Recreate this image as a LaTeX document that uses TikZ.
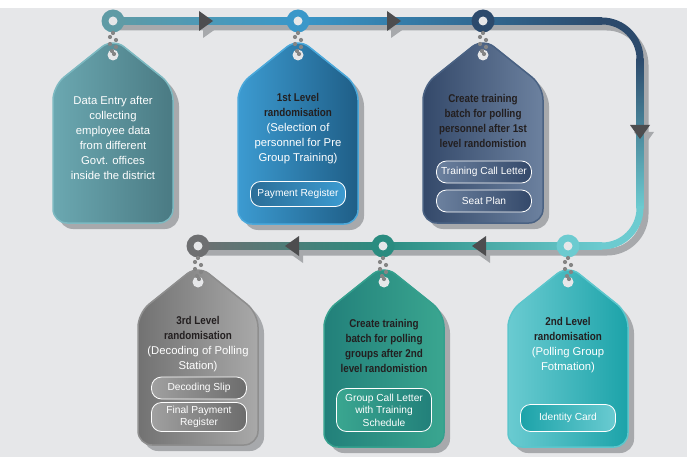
\documentclass[tikz,border=0pt]{standalone}
\usepackage{fontspec}
\setmainfont{Liberation Sans}[BoldFeatures={FakeStretch=0.87}]
\usetikzlibrary{calc}

\definecolor{bggray}{HTML}{E6E7E9}
\definecolor{shadowgray}{HTML}{A7A9AC}
\definecolor{arrowgray}{HTML}{4D4D4F}
\definecolor{chaingray}{HTML}{858585}
\definecolor{titlecol}{HTML}{231F20}
\definecolor{trackA}{HTML}{5F9BA5}
\definecolor{trackB}{HTML}{3A97C9}
\definecolor{trackC}{HTML}{2C4A6C}
\definecolor{trackD}{HTML}{6CCBD0}
\definecolor{trackE}{HTML}{2A8C80}
\definecolor{trackF}{HTML}{6E6F71}
% tag colours: left, right, border
\definecolor{entryL}{HTML}{6BA8B1}  \definecolor{entryR}{HTML}{4A7A83}  \definecolor{entryB}{HTML}{7DB9C1}
\definecolor{firstL}{HTML}{3C9BD1}  \definecolor{firstR}{HTML}{1F5E87}  \definecolor{firstB}{HTML}{4BA8DA}
\definecolor{batchL}{HTML}{34496A}  \definecolor{batchR}{HTML}{6C819F}  \definecolor{batchB}{HTML}{4A6283}
\definecolor{thirdL}{HTML}{727272}  \definecolor{thirdR}{HTML}{A9A9A9}  \definecolor{thirdB}{HTML}{8E8E8E}
\definecolor{groupL}{HTML}{22807A}  \definecolor{groupR}{HTML}{3AA690}  \definecolor{groupB}{HTML}{35A08E}
\definecolor{secondL}{HTML}{6ACBD1} \definecolor{secondR}{HTML}{1CA3A9} \definecolor{secondB}{HTML}{5CC6CC}
\definecolor{firstP}{HTML}{2B6E98}  \definecolor{thirdP}{HTML}{A0A0A0}  \definecolor{thirdQ}{HTML}{6C6C6C}

\tikzset{
   track/.style={line width=7},
   trackshadow/.style={line width=7, draw=shadowgray, transform canvas={shift={(5,6)}}},
   tagtext/.style={align=center, inner sep=0pt, text=white,
      font=\fontsize{11.3}{15}\selectfont},
   tagtitle/.style={tagtext, text=titlecol, font=\fontsize{11.3}{15}\selectfont\bfseries},
   pill/.style={draw=white, line width=.8, rounded corners=10, minimum width=95,
      align=center, inner sep=1pt, text=white, font=\fontsize{10.2}{12.5}\selectfont},
   ring/.style={fill=#1},
}

\newcommand\ttl[1]{\textcolor{titlecol}{\bfseries #1}}

% tag body: centre x, apex y, bottom y, colour prefix
\newcommand\tagbody[4]{%
   \fill[shadowgray, rounded corners=14, transform canvas={shift={(6,6)}}]
      (#1,#2) -- (#1+60,#2+48) -- (#1+60,#3) -- (#1-60,#3) -- (#1-60,#2+48) -- cycle;
   \shadedraw[left color=#4L, right color=#4R, draw=#4B, line width=1.5, rounded corners=14]
      (#1,#2) -- (#1+60,#2+48) -- (#1+60,#3) -- (#1-60,#3) -- (#1-60,#2+48) -- cycle;
   \fill[bggray] (#1,#2+17) circle (5.5);
}

% little chain from ring down to the tag hole
\newcommand\chain[2]{%
   \foreach \dx/\dy in {0/12, -3/16, 3/19, -3/23, 3/26, -1/30, 1/33}
      \fill[chaingray] (#1+\dx,#2+\dy) circle (2.1);
}

% arrow head shadow and arrow head: x, y, rotation
\newcommand\trackarrow[3]{%
   \fill[shadowgray, shift={(#1+4,#2+7)}, rotate=#3] (-7,-10) -- (7,0) -- (-7,10) -- cycle;
}
\newcommand\trackhead[3]{%
   \fill[arrowgray, shift={(#1,#2)}, rotate=#3] (-7,-10) -- (7,0) -- (-7,10) -- cycle;
}

\begin{document}
\begin{tikzpicture}[x=1pt,y=-1pt]
   \useasboundingbox (0,0) rectangle (687,457);
   \fill[white] (0,0) rectangle (687,457);
   \fill[bggray] (0,8) rectangle (687,457);

   \coordinate (r1) at (113,21);
   \coordinate (r2) at (298,21);
   \coordinate (r3) at (483,21);
   \coordinate (c1) at (640,21);
   \coordinate (c2) at (640,246);
   \coordinate (r6) at (568,246);
   \coordinate (r5) at (383,246);
   \coordinate (r4) at (198,246);

   % shadows of the track
   \draw[trackshadow, rounded corners=38] (r1) -- (c1) -- (c2) -- (r4);
   \trackarrow{206}{21}{0}
   \trackarrow{394}{21}{0}
   \trackarrow{640}{132}{-90}
   \trackarrow{479}{246}{180}
   \trackarrow{292}{246}{180}

   % the track
   \shade[left color=trackA, right color=trackB] ($(r1)+(0,-3.5)$) rectangle ($(r2)+(0,3.5)$);
   \shade[left color=trackB, right color=trackC] ($(r2)+(0,-3.5)$) rectangle ($(c1)+(-38,3.5)$);
   \draw[track, trackC, rounded corners=38] ($(c1)+(-40,0)$) -- (c1) -- ($(c1)+(0,40)$);
   \shade[top color=trackC, bottom color=trackD] ($(c1)+(-3.5,38)$) rectangle ($(c2)+(3.5,-38)$);
   \draw[track, trackD, rounded corners=38] ($(c2)+(0,-40)$) -- (c2) -- ($(c2)+(-40,0)$);
   \shade[left color=trackE, right color=trackD] ($(r5)+(0,-3.5)$) rectangle ($(c2)+(-38,3.5)$);
   \shade[left color=trackF, right color=trackE] ($(r4)+(0,-3.5)$) rectangle ($(r5)+(0,3.5)$);

   \trackhead{206}{21}{0}
   \trackhead{394}{21}{0}
   \trackhead{640}{132}{-90}
   \trackhead{479}{246}{180}
   \trackhead{292}{246}{180}

   % tags
   \tagbody{113}{38}{223}{entry}
   \tagbody{298}{38}{224}{first}
   \tagbody{483}{38}{223}{batch}
   \tagbody{198}{265}{445}{third}
   \tagbody{384}{265}{447}{group}
   \tagbody{568}{265}{447}{second}

   % rings
   \foreach \r/\c in {r1/trackA, r2/trackB, r3/trackC, r4/trackF, r5/trackE, r6/trackD} {
      \fill[ring=\c] (\r) circle (11.5);
      \fill[bggray] (\r) circle (4.5);
   }
   \chain{113}{21}
   \chain{298}{21}
   \chain{483}{21}
   \chain{198}{246}
   \chain{383}{246}
   \chain{568}{246}

   % texts
   \node[tagtext] (t1) at (113,137.5) {Data Entry after\\collecting\\employee data\\from different\\Govt. offices\\inside the district};
   \node[tagtext] (t2) at (298,128.5) {\ttl{1st Level}\\\ttl{randomisation}\\(Selection of\\personnel for Pre\\Group Training)};
   \node[tagtitle] (t3) at (483,121) {Create training\\batch for polling\\personnel after 1st\\level randomistion};
   \node[tagtext] (t4) at (198,344.5) {\ttl{3rd Level}\\\ttl{randomisation}\\(Decoding of Polling\\Station)};
   \node[tagtitle] (t5) at (384,345.5) {Create training\\batch for polling\\groups after 2nd\\level randomistion};
   \node[tagtext] (t6) at (568,345.5) {\ttl{2nd Level}\\\ttl{randomisation}\\(Polling Group\\Fotmation)};

   % documents
   \node[pill, minimum height=25, left color=firstP, right color=firstL] (p2) at (298,194) {Payment Register};
   \node[pill, minimum height=22, left color=batchR, right color=batchL] (p3a) at (484,172) {Training Call Letter};
   \node[pill, minimum height=22, left color=batchR, right color=batchL] (p3b) at (484,201) {Seat Plan};
   \node[pill, minimum height=22, left color=thirdP, right color=thirdQ] (p4a) at (199,388) {Decoding Slip};
   \node[pill, minimum height=29, left color=thirdP, right color=thirdQ] (p4b) at (199,417) {Final Payment\\Register};
   \node[pill, minimum height=43, left color=groupR, right color=groupL] (p5) at (384,410) {Group Call Letter\\with Training\\Schedule};
   \node[pill, minimum height=27, left color=secondR, right color=secondL] (p6) at (568,418) {Identity Card};
\end{tikzpicture}
\end{document}
